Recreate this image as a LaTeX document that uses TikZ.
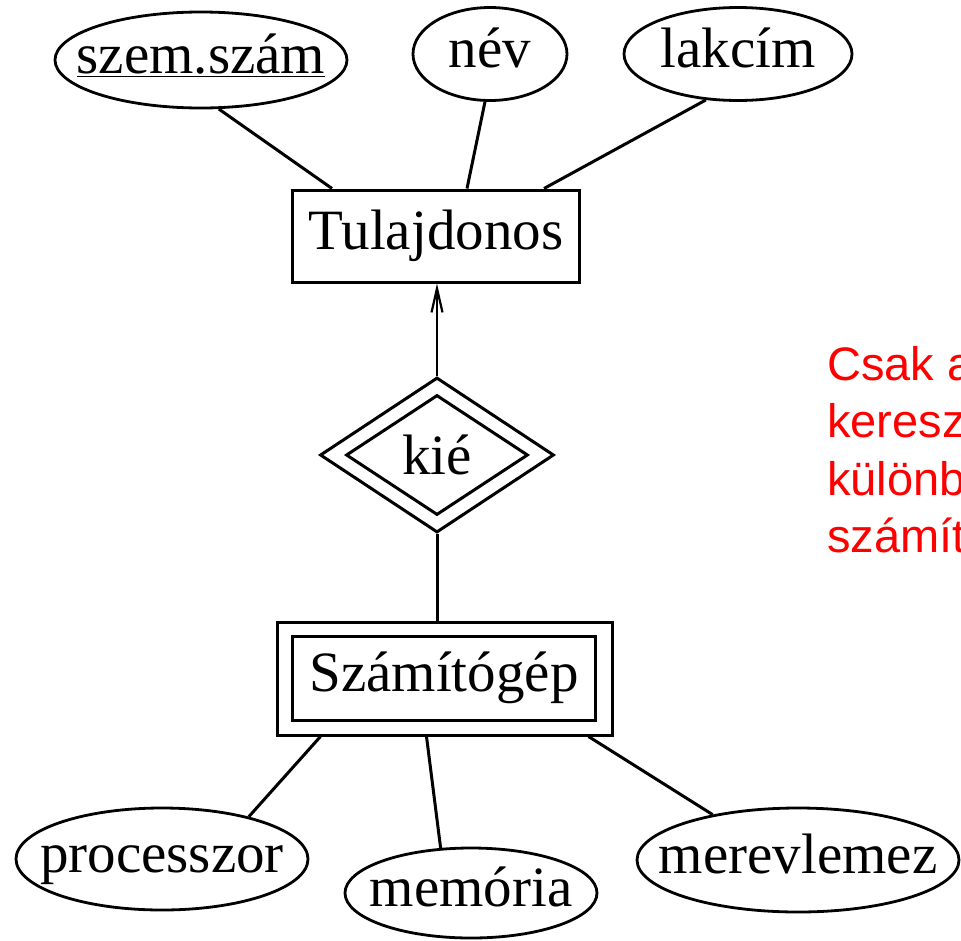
\documentclass[tikz,border=0pt]{standalone}
\usepackage{fontspec}
\setmainfont{Liberation Serif}
\newfontfamily\redsans{Liberation Sans}
\usetikzlibrary{shapes.geometric,arrows.meta}
\newcommand{\att}[1]{\smash{\raisebox{-0.24em}{\makebox[0pt]{#1}}}}
\tikzset{
  lw/.style={line width=3pt},
  attr/.style={ellipse, draw, line width=2.8pt, inner sep=0pt},
  entbox/.style={rectangle, draw, lw, inner sep=0pt},
  relbox/.style={diamond, draw, lw, inner sep=0pt},
  conn/.style={lw},
  big/.style={font=\fontsize{57}{60}\selectfont},
}
\begin{document}
\begin{tikzpicture}[x=1pt,y=-1pt]
\useasboundingbox (0,0) rectangle (961,940);
\fill[white] (0,0) rectangle (961,940);
% attributes of Tulajdonos
\node[attr, big, minimum width=292pt, minimum height=96pt] (szem) at (201,60) {\att{\underline{szem.szám}}};
\node[attr, big, minimum width=154pt, minimum height=93pt] (nev) at (490,54) {\att{név}};
\node[attr, big, minimum width=228pt, minimum height=93pt] (lak) at (738,54) {\att{lakcím}};
% entity
\node[entbox, big, minimum width=287pt, minimum height=92pt] (tul) at (436,236) {Tulajdonos};
% relationship
\node[relbox, minimum width=234pt, minimum height=155pt] (kie) at (437,455) {};
\node[relbox, big, minimum width=182pt, minimum height=120pt] (kiein) at (437,455) {kié};
% weak entity
\node[entbox, minimum width=335pt, minimum height=113pt] (szg) at (444.5,678.5) {};
\node[entbox, big, minimum width=303pt, minimum height=84pt] (szgin) at (444,678) {Számítógép};
% attributes of Számítógép
\node[attr, big, minimum width=292pt, minimum height=102pt] (proc) at (162,859) {\att{processzor}};
\node[attr, big, minimum width=252pt, minimum height=90pt] (mem) at (471,893) {\att{memória}};
\node[attr, big, minimum width=322pt, minimum height=104pt] (merev) at (798,860) {\att{merevlemez}};
% connectors
\draw[conn] (szem.-70.5) -- ([xshift=41pt]tul.north west);
\draw[conn] (nev.-96) -- ([xshift=176pt]tul.north west);
\draw[conn] (lak.-125) -- ([xshift=253pt]tul.north west);
\draw[line width=2.2pt, -{Straight Barb[length=24pt,width=11pt,line width=2.2pt]}] (kie.north) -- (kie.north |- tul.south);
\draw[conn] (kie.south) -- (kie.south |- szg.north);
\draw[conn] ([xshift=45pt]szg.south west) -- (proc.26);
\draw[conn] ([xshift=151pt]szg.south west) -- (mem.124.6);
\draw[conn] ([xshift=313pt]szg.south west) -- (merev.152.9);
% note (cut off at the right edge, as in the reference)
\begin{scope}
\clip (0,0) rectangle (961,940);
\node[anchor=north west, inner sep=0pt, align=left, text=red, font=\redsans\fontsize{47}{57.5}\selectfont] (note) at (827,346) {Csak a\\kereszt\\különb\\számít};
\end{scope}
\end{tikzpicture}
\end{document}
